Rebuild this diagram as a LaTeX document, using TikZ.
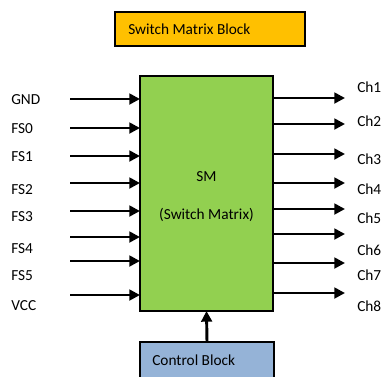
\documentclass[tikz,border=0pt]{standalone}
\usepackage{fontspec}
\setmainfont{Carlito}
\usetikzlibrary{arrows.meta}
\definecolor{yel}{HTML}{FFC000}
\definecolor{grn}{HTML}{92D050}
\definecolor{blu}{HTML}{95B3D7}
\begin{document}
\begin{tikzpicture}[x=0.75pt,y=-0.75pt, font=\fontsize{11.5}{14}\selectfont,
  box/.style={draw=black, line width=1.1pt, inner sep=0pt, outer sep=0pt},
  sig/.style={line width=2.2pt, -{Triangle[length=8pt,width=8pt]}},
  lbl/.style={anchor=west, inner sep=0pt}]
\useasboundingbox (0,0) rectangle (384,376);
% blocks
\node[box, fill=yel, minimum width=142.5pt, minimum height=25.5pt] (title) at (210,29) {};
\node[lbl] (titletext) at (128,29) {Switch Matrix Block};
\node[box, fill=grn, minimum width=99.75pt, minimum height=176.25pt] (sm) at (206.5,193.5) {};
\node (smtext) at (206.5,177) {SM};
\node (smsub) at (206.5,215) {(Switch Matrix)};
\node[box, fill=blu, minimum width=100.5pt, minimum height=33pt] (ctrl) at (207,364) {};
\node[lbl] (ctrltext) at (152,360) {Control Block};
% input labels
\node[lbl] (lgnd) at (11,100) {GND};
\node[lbl] (lfs0) at (11,129) {FS0};
\node[lbl] (lfs1) at (11,157) {FS1};
\node[lbl] (lfs2) at (11,190) {FS2};
\node[lbl] (lfs3) at (11,217) {FS3};
\node[lbl] (lfs4) at (11,249) {FS4};
\node[lbl] (lfs5) at (11,276) {FS5};
\node[lbl] (lvcc) at (11,306) {VCC};
% input arrows
\foreach \n/\y in {1/99,2/128,3/156,4/183,5/211,6/237,7/261,8/295}{
  \coordinate (in\n) at (70,\y);
  \draw[sig] (in\n) -- (in\n -| sm.west);
}
% output arrows
\foreach \n/\y in {1/98,2/124,3/154,4/183,5/209,6/234,7/263,8/293}{
  \coordinate (out\n) at (345,\y);
  \draw[sig] (out\n -| sm.east) -- (out\n);
}
% output labels
\node[lbl] (ch1) at (357,87) {Ch1};
\node[lbl] (ch2) at (357,121) {Ch2};
\node[lbl] (ch3) at (357,159) {Ch3};
\node[lbl] (ch4) at (357,189) {Ch4};
\node[lbl] (ch5) at (357,218) {Ch5};
\node[lbl] (ch6) at (357,250) {Ch6};
\node[lbl] (ch7) at (357,275) {Ch7};
\node[lbl] (ch8) at (357,306) {Ch8};
% control arrow
\draw[sig] (ctrl.north) -- (sm.south);
\end{tikzpicture}
\end{document}
